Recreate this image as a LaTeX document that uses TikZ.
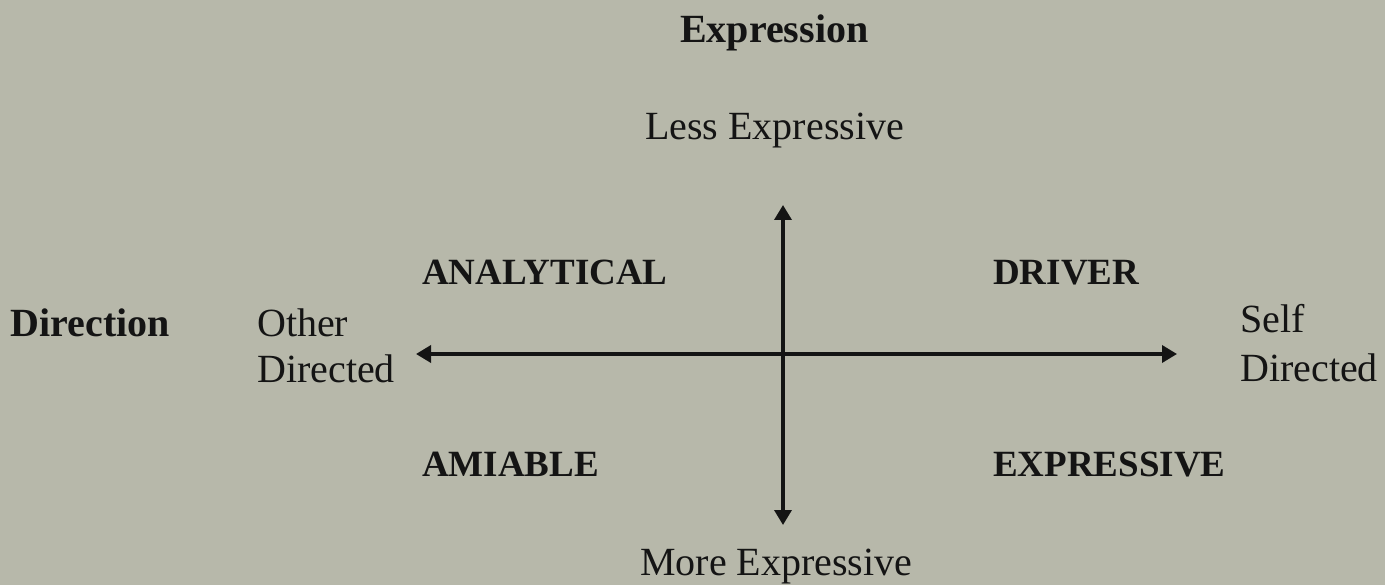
\documentclass[tikz,border=0pt]{standalone}
\usepackage{fontspec}
\setmainfont{Liberation Serif}
\usetikzlibrary{arrows.meta}
\definecolor{bg}{RGB}{183,184,170}
\definecolor{ink}{RGB}{20,20,20}
\begin{document}
\begin{tikzpicture}[x=1pt,y=-1pt,
  txt/.style={inner sep=0pt,text=ink,font=\fontsize{40}{46}\selectfont},
  btxt/.style={inner sep=0pt,text=ink,font=\fontsize{40}{46}\selectfont\bfseries},
  quad/.style={inner sep=0pt,text=ink,font=\fontsize{37}{44}\selectfont\bfseries},
  axis/.style={draw=ink,line width=3.5pt,{Triangle[length=15pt,width=17pt]}-{Triangle[length=15pt,width=17pt]}}]
\fill[bg] (0,0) rectangle (1385,585);
\useasboundingbox (0,0) rectangle (1385,585);
% axes
\coordinate (left) at (416,354);
\coordinate (right) at (1177,354);
\coordinate (top) at (783,205);
\coordinate (bottom) at (783,525);
\draw[axis] (left) -- (right);
\draw[axis] (top) -- (bottom);
% titles
\node[btxt,anchor=base west] (expression) at (680,43) {Expression};
\node[txt,anchor=base west] (less) at (645,140) {Less Expressive};
\node[txt,anchor=base west] (more) at (640,575) {More Expressive};
\node[btxt,anchor=base east] (direction) at (170,337) {Direction};
\node[txt,anchor=base west] (other1) at (257,337) {Other};
\node[txt,anchor=base west] (other2) at (257,383) {Directed};
\node[txt,anchor=base west] (self1) at (1240,333) {Self};
\node[txt,anchor=base west] (self2) at (1240,382) {Directed};
% quadrants
\node[quad,anchor=base west] (analytical) at (422,285) {ANALYTICAL};
\node[quad,anchor=base west] (driver) at (993,285) {DRIVER};
\node[quad,anchor=base west] (amiable) at (422,476) {AMIABLE};
\node[quad,anchor=base west] (expressive) at (993,476) {EXPRESSIVE};
\end{tikzpicture}
\end{document}
